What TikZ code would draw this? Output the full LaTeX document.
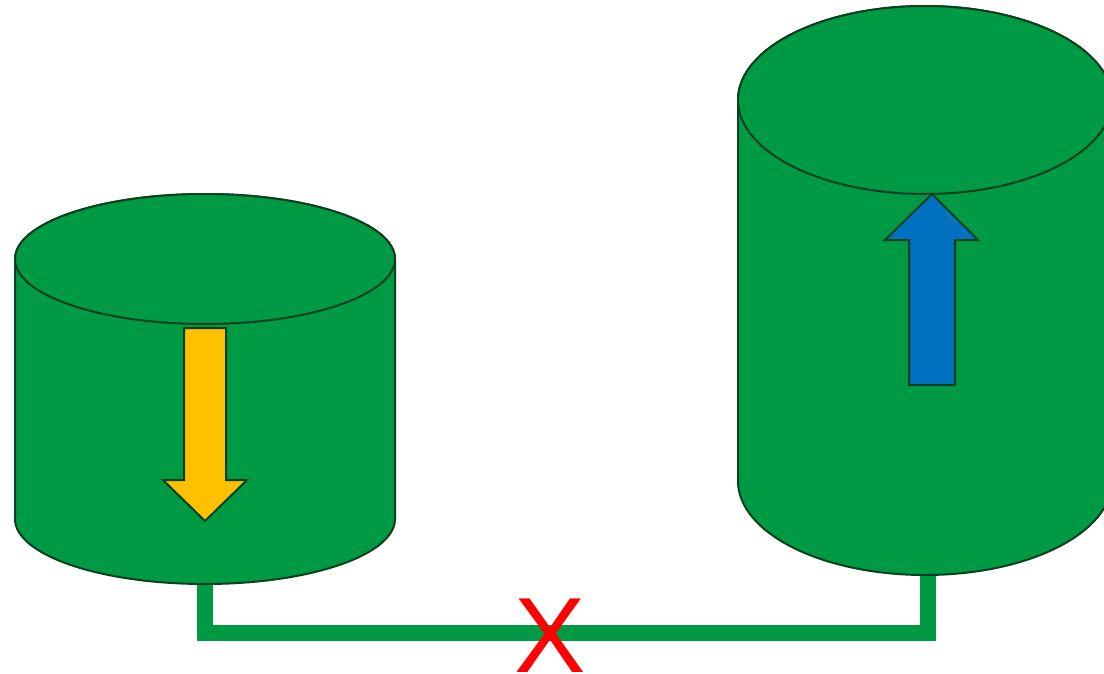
\documentclass[tikz,border=0pt]{standalone}
\usepackage{fontspec}
\setmainfont{Liberation Sans}
\definecolor{tankgreen}{RGB}{0,153,68}
\definecolor{edgegreen}{RGB}{10,64,30}
\definecolor{arrowyellow}{RGB}{255,192,0}
\definecolor{arrowblue}{RGB}{0,112,192}
\definecolor{crossred}{RGB}{255,0,0}
\tikzset{
  tank/.style={fill=tankgreen, draw=edgegreen, line width=2pt},
  pipe/.style={draw=tankgreen, line width=16pt, line join=miter},
  flowarrow/.style={draw=edgegreen, line width=2pt, line join=miter},
}
\begin{document}
\begin{tikzpicture}[x=1pt,y=1pt]
\useasboundingbox (0,0) rectangle (1104,-673);
\clip (0,0) rectangle (1104,-673);
\fill[white] (0,0) rectangle (1104,-673);
% named anchor points
\coordinate (lbot) at (205,-560);
\coordinate (lcorner) at (205,-633);
\coordinate (rcorner) at (928,-633);
\coordinate (rbot) at (928,-550);
% pipe
\draw[pipe] (lbot) -- (lcorner) -- (rcorner) -- (rbot);
% left tank
\path[tank] (15,-259) -- (15,-519) arc[start angle=180,end angle=360,x radius=190,y radius=65]
  -- (395,-259) arc[start angle=0,end angle=180,x radius=190,y radius=65] -- cycle;
\draw[tank] (205,-259) ellipse[x radius=190,y radius=65];
% right tank
\path[tank] (738,-100) -- (738,-481) arc[start angle=180,end angle=360,x radius=187,y radius=94]
  -- (1112,-100) arc[start angle=0,end angle=180,x radius=187,y radius=94] -- cycle;
\draw[tank] (925,-100) ellipse[x radius=187,y radius=94];
% arrows
\draw[flowarrow, fill=arrowyellow] (184,-328) -- (226,-328) -- (226,-480) -- (247,-480)
  -- (205,-521) -- (163,-480) -- (184,-480) -- cycle;
\draw[flowarrow, fill=arrowblue] (932,-194) -- (978,-240) -- (955,-240) -- (955,-385)
  -- (909,-385) -- (909,-240) -- (885,-240) -- cycle;
% cross
\node[anchor=base, inner sep=0pt, text=crossred, font=\fontsize{107}{107}\selectfont] (cross) at (550,-672) {X};
\end{tikzpicture}
\end{document}
